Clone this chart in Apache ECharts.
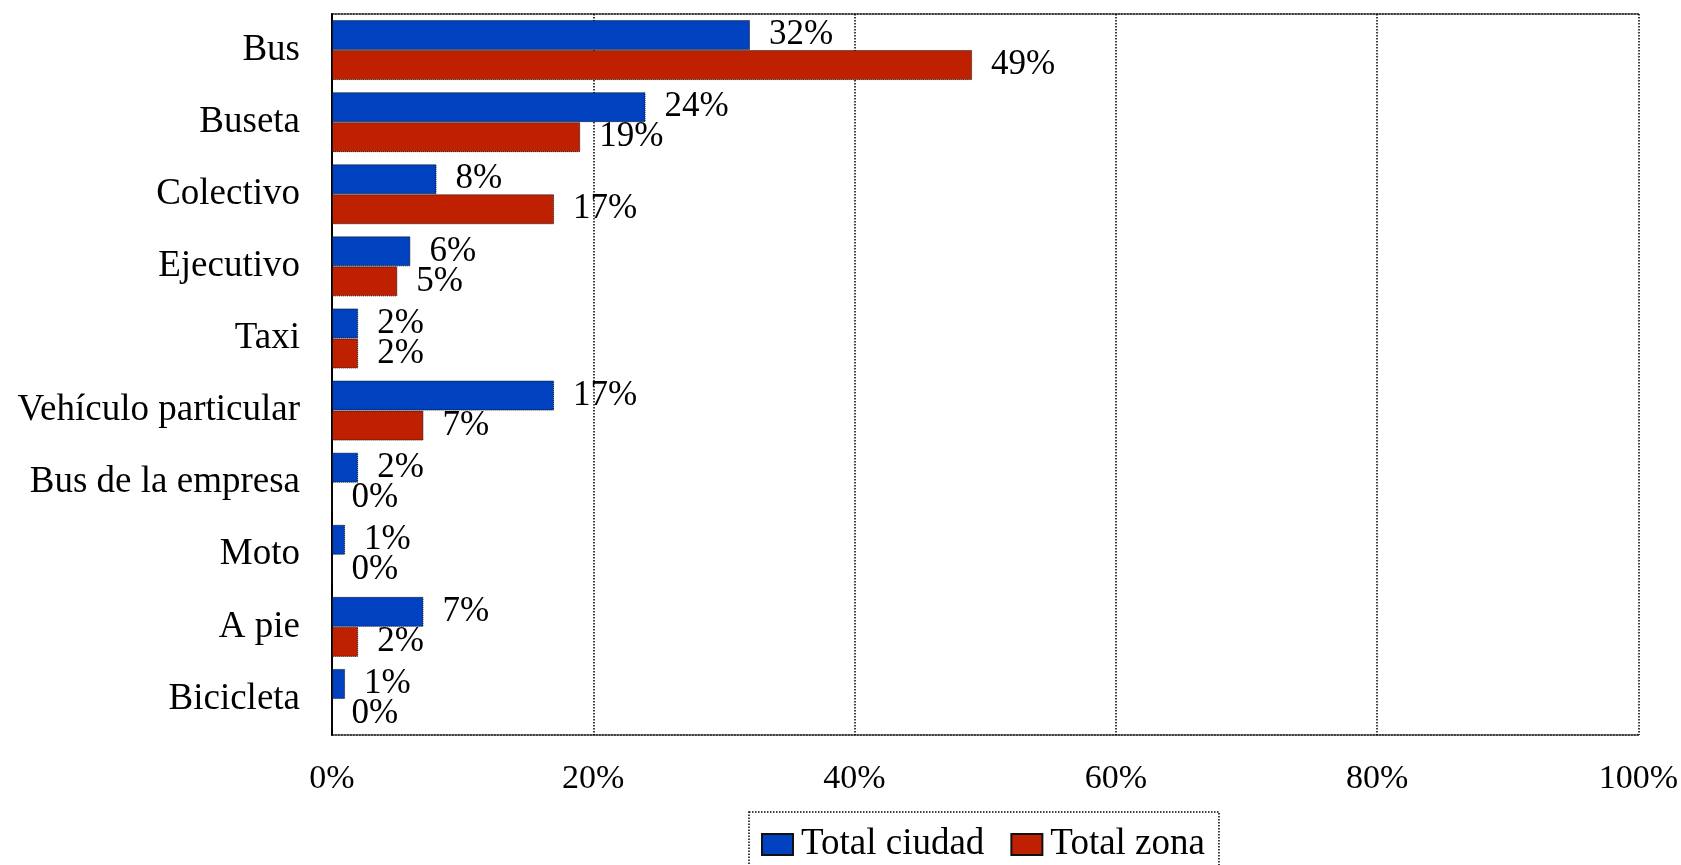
<!DOCTYPE html>
<html>
<head>
<meta charset="utf-8">
<script src="https://cdn.jsdelivr.net/npm/echarts@6/dist/echarts.min.js"></script>
<style>
html,body{margin:0;padding:0;background:#fff;}
#chart{width:1681px;height:865px;}
</style>
</head>
<body>
<div id="chart"></div>
<script>
const categories = ['Bus','Buseta','Colectivo','Ejecutivo','Taxi','Vehículo particular','Bus de la empresa','Moto','A pie','Bicicleta'];
const seriesNames = ['Total ciudad','Total zona'];
const totalCiudad = [32,24,8,6,2,17,2,1,7,1];
const totalZona = [49,19,17,5,2,7,0,0,2,0];
const xTicks = [0,20,40,60,80,100];

const FONT = "'Liberation Serif', 'Times New Roman', serif";
const BLUE = '#0041BF';
const RED = '#BF2000';

const chart = echarts.init(document.getElementById('chart'));
const labelStyle = {
  show: true, position: 'right', distance: 19,
  formatter: p => p.value + '%',
  color: '#000', fontFamily: FONT, fontSize: 35
};
chart.setOption({
  animation: false,
  backgroundColor: '#fff',
  textStyle: {fontFamily: FONT},
  grid: {left: 332, right: 41, top: 14, bottom: 130, containLabel: false},
  legend: {
    data: seriesNames,
    left: 749, top: 812,
    padding: [14, 14, 12, 12],
    itemWidth: 31, itemHeight: 21, itemGap: 26,
    borderColor: '#000', borderWidth: 1.5, borderType: 'dotted',
    textStyle: {fontFamily: FONT, fontSize: 37, color: '#000', padding: [0, 0, 0, 3]},
    icon: 'rect'
  },
  xAxis: [{
    type: 'value', min: xTicks[0], max: xTicks[xTicks.length-1], interval: 20,
    axisLine: {show: true, lineStyle: {color: '#000', width: 1.5, type: 'dotted'}},
    axisTick: {show: false},
    axisLabel: {formatter: '{value}%', color: '#000', fontFamily: FONT, fontSize: 34, margin: 27},
    splitLine: {show: true, lineStyle: {color: '#000', width: 1.5, type: 'dotted'}}
  }, {
    type: 'value', position: 'top', min: 0, max: 100, interval: 20,
    axisLine: {show: true, lineStyle: {color: '#000', width: 1.5, type: 'dotted'}},
    axisTick: {show: false}, axisLabel: {show: false}, splitLine: {show: false}
  }],
  yAxis: {
    type: 'category', data: categories, inverse: true,
    axisLine: {show: true, lineStyle: {color: '#000', width: 2}},
    axisTick: {show: false},
    axisLabel: {color: '#000', fontFamily: FONT, fontSize: 37, margin: 32, padding: [4, 0, 0, 0]}
  },
  series: [{
    name: seriesNames[0], type: 'bar', data: totalCiudad,
    barWidth: 30, barGap: '0%',
    itemStyle: {color: BLUE, borderColor: '#111', borderWidth: 1, borderType: 'dotted'},
    label: labelStyle
  }, {
    name: seriesNames[1], type: 'bar', data: totalZona,
    barWidth: 30, barGap: '0%',
    itemStyle: {color: RED, borderColor: '#111', borderWidth: 1, borderType: 'dotted'},
    label: labelStyle
  }]
});
</script>
</body>
</html>
